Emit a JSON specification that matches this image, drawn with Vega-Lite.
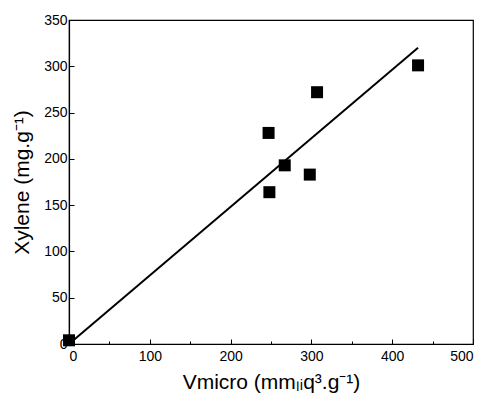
{
  "$schema": "https://vega.github.io/schema/vega-lite/v6.json",
  "width": 404,
  "height": 324,
  "autosize": "none",
  "padding": {"left": 69, "top": 20, "right": 13, "bottom": 57},
  "background": "white",
  "config": {
    "view": {"stroke": "black", "strokeWidth": 1.2},
    "font": "Liberation Sans",
    "axis": {
      "grid": false,
      "domainColor": "black",
      "domainWidth": 1.2,
      "tickColor": "black",
      "labelColor": "black",
      "titleColor": "black",
      "labelFont": "Liberation Sans",
      "titleFont": "Liberation Sans",
      "labelFontSize": 14,
      "titleFontSize": 21,
      "titleFontWeight": "normal"
    }
  },
  "datasets": {
    "pts": [
      {"Vmicro": 0, "Xylene": 4},
      {"Vmicro": 247, "Xylene": 228},
      {"Vmicro": 248, "Xylene": 164},
      {"Vmicro": 267, "Xylene": 193},
      {"Vmicro": 298, "Xylene": 183},
      {"Vmicro": 307, "Xylene": 272},
      {"Vmicro": 432, "Xylene": 301}
    ],
    "fit": [
      {"Vmicro": 0, "Xylene": 0},
      {"Vmicro": 432, "Xylene": 320}
    ]
  },
  "layer": [
    {
      "data": {"name": "fit"},
      "mark": {"type": "line", "color": "black", "strokeWidth": 2},
      "encoding": {
        "x": {"field": "Vmicro", "type": "quantitative"},
        "y": {"field": "Xylene", "type": "quantitative"}
      }
    },
    {
      "data": {"name": "pts"},
      "mark": {"type": "point", "shape": "square", "filled": true, "color": "black", "opacity": 1, "size": 144},
      "encoding": {
        "x": {
          "field": "Vmicro",
          "type": "quantitative",
          "scale": {"domain": [0, 500], "nice": false, "zero": false},
          "axis": {
            "title": "Vmicro (mmₗᵢq³.g⁻¹)",
            "values": [0, 50, 100, 150, 200, 250, 300, 350, 400, 450, 500],
            "labelExpr": "datum.value % 100 === 0 ? datum.label : ''",
            "tickSize": {"condition": {"test": "datum.value % 100 === 0", "value": -5}, "value": -3},
            "labelPadding": 10,
            "titlePadding": 8
          }
        },
        "y": {
          "field": "Xylene",
          "type": "quantitative",
          "scale": {"domain": [0, 350], "nice": false, "zero": false},
          "axis": {
            "title": "Xylene (mg.g⁻¹)",
            "values": [0, 25, 50, 75, 100, 125, 150, 175, 200, 225, 250, 275, 300, 325, 350],
            "labelExpr": "datum.value % 50 === 0 ? datum.label : ''",
            "tickSize": {"condition": {"test": "datum.value % 50 === 0", "value": -5}, "value": -3},
            "labelPadding": 7,
            "titlePadding": 11
          }
        }
      }
    }
  ]
}
